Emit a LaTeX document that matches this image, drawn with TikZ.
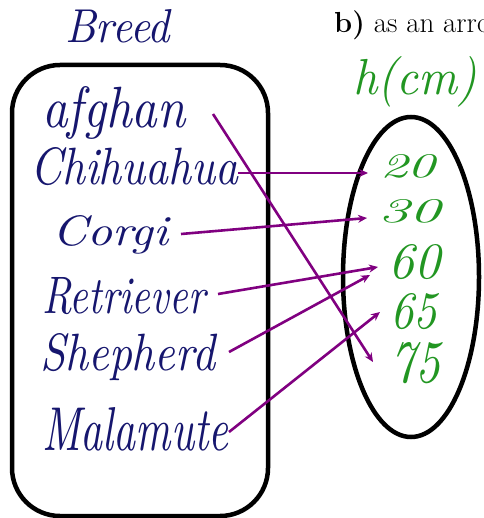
\documentclass[tikz,border=0pt]{standalone}
\usepackage{graphicx}
\usepackage{fontspec}
\usetikzlibrary{arrows.meta,shapes.geometric}
\definecolor{ink}{RGB}{22,22,110}
\definecolor{pen}{RGB}{34,150,34}
\definecolor{arrowpurple}{RGB}{128,0,128}
% hand-lettered word stretched to a given width and height (in pt)
\newcommand{\handw}[3]{\resizebox{#1pt}{#2pt}{\itshape #3}}
\tikzset{
  word/.style={anchor=base west, inner sep=0pt, text=ink},
  value/.style={anchor=base west, inner sep=0pt, text=pen},
  mapsto/.style={draw=arrowpurple, line width=2.6pt,
    -{Stealth[length=9pt,width=8pt]}},
  setline/.style={draw=black, line width=4.5pt}
}
\begin{document}
\begin{tikzpicture}[x=1pt,y=-1pt]
\useasboundingbox (0,0) rectangle (483,518);

% heading, running off the right edge
\begin{scope}
  \clip (0,0) rectangle (483,518);
  \node[anchor=base west, inner sep=0pt, text=black] (heading) at (334,33)
    {\rmfamily\fontsize{29}{33}\selectfont\textbf{b)}\ as an arro};
\end{scope}

% the two sets
\draw[setline, rounded corners=48pt] (12,65) rectangle (268,516);
\node[setline, ellipse, minimum width=136pt, minimum height=320pt,
      inner sep=0pt] (heights) at (411,277) {};

% set titles
\node[word] (breed) at (65,43) {\handw{105}{33}{Breed}};
\node[value] (unit) at (353,95) {\handw{124}{38}{h(cm)}};

% breeds
\node[word] (afghan)    at (42,128) {\handw{143}{41}{afghan}};
\node[word] (chihuahua) at (30,185) {\handw{208}{37}{Chihuahua}};
\node[word] (corgi)     at (52,245) {\handw{116}{30}{Corgi}};
\node[word] (retriever) at (42,313) {\handw{163}{36}{Retriever}};
\node[word] (shepherd)  at (40,370) {\handw{175}{37}{Shepherd}};
\node[word] (malamute)  at (42,450) {\handw{186}{43}{Malamute}};

% heights
\node[value] (h20) at (380,178) {\handw{55}{23}{20}};
\node[value] (h30) at (378,223) {\handw{62}{23}{30}};
\node[value] (h60) at (388,278) {\handw{52}{34}{60}};
\node[value] (h65) at (390,328) {\handw{47}{35}{65}};
\node[value] (h75) at (390,382) {\handw{50}{40}{75}};

% arrow ends
\coordinate (afghanT)    at (213,114);
\coordinate (chihuahuaT) at (238,173);
\coordinate (corgiT)     at (181,234);
\coordinate (retrieverT) at (218,294);
\coordinate (shepherdT)  at (229,352);
\coordinate (malamuteT)  at (229,432);
\coordinate (h75H)  at (373,362);
\coordinate (h20H)  at (368,173);
\coordinate (h30H)  at (367,218);
\coordinate (h60Ha) at (378,267);
\coordinate (h60Hb) at (370,275);
\coordinate (h65H)  at (380,312);

% the mapping
\draw[mapsto] (afghanT)    -- (h75H);
\draw[mapsto] (chihuahuaT) -- (h20H);
\draw[mapsto] (corgiT)     -- (h30H);
\draw[mapsto] (retrieverT) -- (h60Ha);
\draw[mapsto] (shepherdT)  -- (h60Hb);
\draw[mapsto] (malamuteT)  -- (h65H);
\end{tikzpicture}
\end{document}
